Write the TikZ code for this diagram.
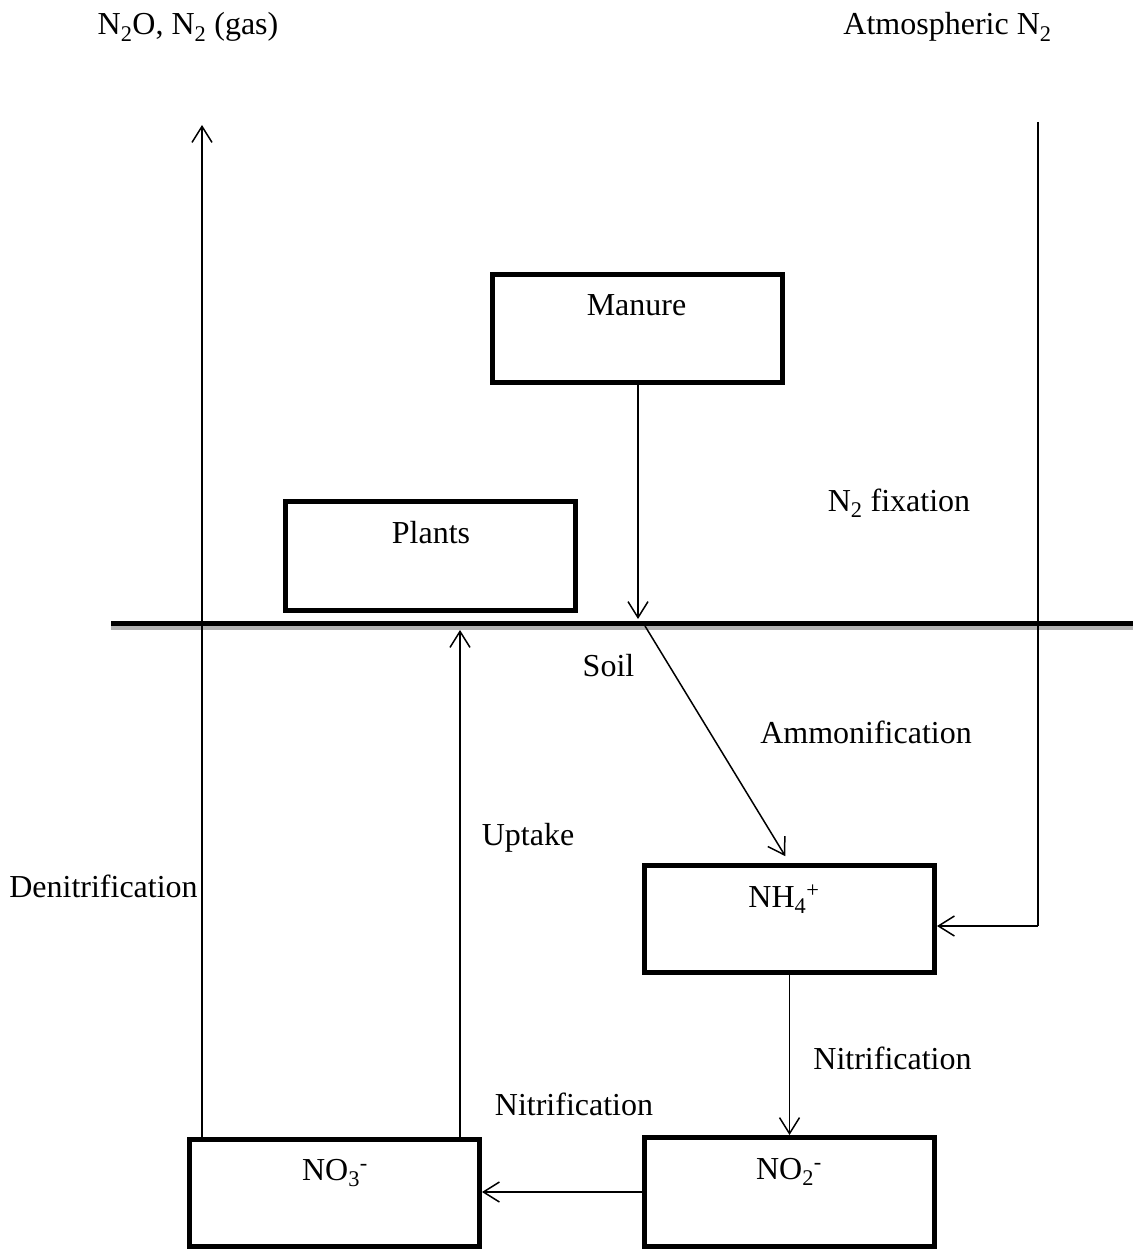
\documentclass[tikz,border=0pt]{standalone}
\usepackage{fontspec}
\setmainfont{Liberation Serif}
\usetikzlibrary{arrows.meta}

\begin{document}
\begin{tikzpicture}[x=1pt,y=-1pt,
	pool/.style={draw, line width=5pt, minimum width=290pt, minimum height=108pt, inner sep=0pt},
	lbl/.style={font=\fontsize{32}{38}\selectfont, inner sep=0pt, anchor=base},
	flow/.style={line width=1.5pt, -{Straight Barb[length=16pt,width=20pt]}}]
	\useasboundingbox (0,0) rectangle (1133,1249);

	%% Soil surface
	\draw[line width=4.5pt, gray!60] (111,628) -- (1133,628);
	\draw[line width=5pt] (111,623.5) -- (1133,623.5);
	\node[lbl] (soil) at (608.5,676) {Soil};

	%% Pools
	\node[pool] (manure) at (637.5,328.5) {};
	\node[pool, minimum height=109pt] (plants) at (430.5,556) {};
	\node[pool, minimum height=107pt] (nh4) at (789.5,919) {};
	\node[pool, minimum height=109pt] (no2) at (789.5,1192) {};
	\node[pool, minimum height=107pt] (no3) at (334.5,1193) {};

	\node[lbl] (manuretxt) at (636.5,315) {Manure};
	\node[lbl] (plantstxt) at (431,543) {Plants};
	\node[lbl] (nh4txt) at (784,907) {NH\textsubscript{4}\textsuperscript{+}};
	\node[lbl] (no2txt) at (789,1179) {NO\textsubscript{2}\textsuperscript{-}};
	\node[lbl] (no3txt) at (335,1180) {NO\textsubscript{3}\textsuperscript{-}};

	%% Outside the soil
	\node[lbl] (gas) at (188,35) {N\textsubscript{2}O, N\textsubscript{2} (gas)};
	\node[lbl] (atm) at (947.5,35) {Atmospheric N\textsubscript{2}};
	\coordinate (gastop) at (202,125);
	\coordinate (atmtop) at (1038,122);
	\coordinate (fixbend) at (1038,926);
	\coordinate (manuredrop) at (638,619);
	\coordinate (ammstart) at (645,626);
	\coordinate (uptaketop) at (460,630);

	%% Flows
	\draw[flow] (manure.south -| manuredrop) -- (manuredrop);
	\draw[flow, shorten >=8pt] (ammstart) -- (nh4.north);
	\draw[line width=1.5pt] (atmtop) -- (fixbend);
	\draw[flow] (fixbend) -- (fixbend -| nh4.east);
	\draw[flow] (nh4.south) -- (no2.north);
	\draw[flow] (no2.west) -- (no2.west -| no3.east);
	\draw[flow] (no3.north -| uptaketop) -- (uptaketop);
	\draw[flow] (no3.north -| gastop) -- (gastop);

	\node[lbl] (fixtxt) at (899,511) {N\textsubscript{2} fixation};
	\node[lbl] (ammtxt) at (866,743) {Ammonification};
	\node[lbl] (uptaketxt) at (528,845) {Uptake};
	\node[lbl] (dentxt) at (103.5,897) {Denitrification};
	\node[lbl] (nitatxt) at (892.5,1069) {Nitrification};
	\node[lbl] (nitbtxt) at (574,1115) {Nitrification};
\end{tikzpicture}
\end{document}
